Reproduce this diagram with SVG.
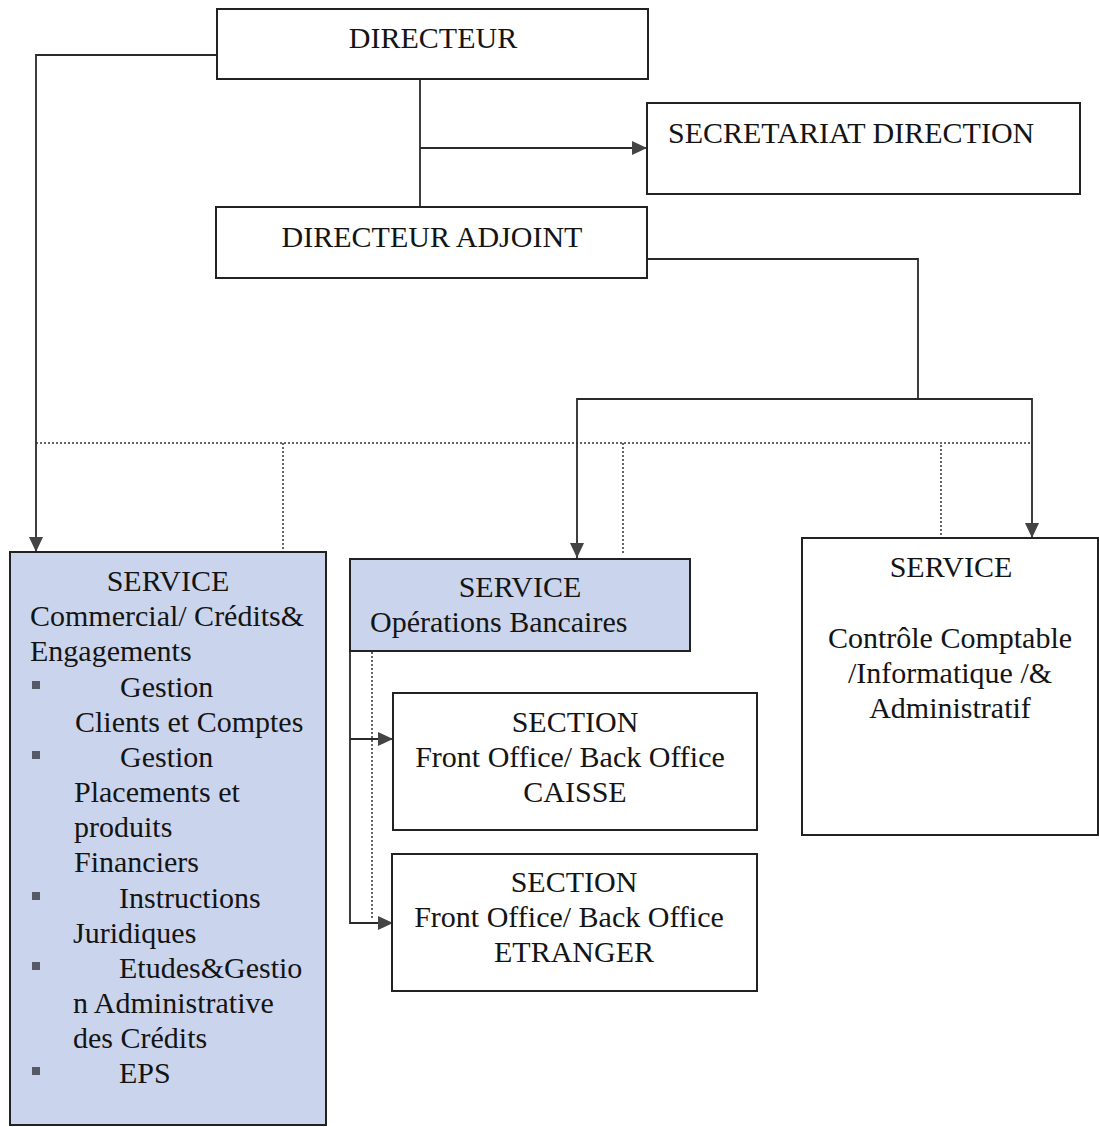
<svg xmlns="http://www.w3.org/2000/svg" width="1099" height="1127" viewBox="0 0 1099 1127">
  <style>
    .box { fill: #ffffff; stroke: #222222; stroke-width: 2; }
    .blue { fill: #cbd4ed; stroke: #222222; stroke-width: 2; }
    .lbl { font-family: "Liberation Serif", "Times New Roman", serif; font-size: 30px; fill: #141414; }
    .mid { text-anchor: middle; }
    .link { fill: none; stroke: #2a2a2a; stroke-width: 1.8; }
    .dot { fill: none; stroke: #333333; stroke-width: 1.5; stroke-dasharray: 2 2; }
    .bullet { fill: #555a66; }
  </style>
  <defs>
    <marker id="arrow" viewBox="0 0 15 14" refX="15" refY="7" markerWidth="15" markerHeight="14" markerUnits="userSpaceOnUse" orient="auto">
      <path d="M0,0 L15,7 L0,14 Z" fill="#444444"/>
    </marker>
  </defs>

  <rect width="1099" height="1127" fill="#ffffff"/>

  <!-- connectors -->
  <g id="connectors">
    <path class="link" d="M217,55 H36 V552" marker-end="url(#arrow)"/>
    <path class="link" d="M420,79 V207"/>
    <path class="link" d="M420,148 H647" marker-end="url(#arrow)"/>
    <path class="link" d="M647,259 H918 V399"/>
    <path class="link" d="M918,399 H577 V558" marker-end="url(#arrow)"/>
    <path class="link" d="M918,399 H1032 V538" marker-end="url(#arrow)"/>
    <path class="dot" d="M36,443 H1030"/>
    <path class="dot" d="M283,443 V552"/>
    <path class="dot" d="M623,443 V553"/>
    <path class="dot" d="M941,445 V537"/>
    <path class="link" d="M350,651 V923 H393" marker-end="url(#arrow)"/>
    <path class="link" d="M350,739 H393" marker-end="url(#arrow)"/>
    <path class="dot" d="M372,648 V918"/>
  </g>

  <g id="directeur">
    <rect class="box" x="217" y="9" width="431" height="70"/>
    <text class="lbl mid" x="433" y="48">DIRECTEUR</text>
  </g>

  <g id="secretariat">
    <rect class="box" x="647" y="103" width="433" height="91"/>
    <text class="lbl" x="668" y="143">SECRETARIAT DIRECTION</text>
  </g>

  <g id="directeur-adjoint">
    <rect class="box" x="216" y="207" width="431" height="71"/>
    <text class="lbl mid" x="432" y="247">DIRECTEUR ADJOINT</text>
  </g>

  <g id="service-commercial">
    <rect class="blue" x="10" y="552" width="316" height="573"/>
    <text class="lbl mid" x="168" y="591">SERVICE</text>
    <text class="lbl" x="30" y="626">Commercial/ Crédits&amp;</text>
    <text class="lbl" x="30" y="661">Engagements</text>
    <rect class="bullet" x="32" y="681" width="8" height="8"/>
    <text class="lbl" x="120" y="697">Gestion</text>
    <text class="lbl" x="75" y="732">Clients et Comptes</text>
    <rect class="bullet" x="32" y="751" width="8" height="8"/>
    <text class="lbl" x="120" y="767">Gestion</text>
    <text class="lbl" x="74" y="802">Placements et</text>
    <text class="lbl" x="74" y="837">produits</text>
    <text class="lbl" x="74" y="872">Financiers</text>
    <rect class="bullet" x="32" y="892" width="8" height="8"/>
    <text class="lbl" x="119" y="908">Instructions</text>
    <text class="lbl" x="73" y="943">Juridiques</text>
    <rect class="bullet" x="32" y="962" width="8" height="8"/>
    <text class="lbl" x="119" y="978">Etudes&amp;Gestio</text>
    <text class="lbl" x="73" y="1013">n Administrative</text>
    <text class="lbl" x="73" y="1048">des Crédits</text>
    <rect class="bullet" x="32" y="1067" width="8" height="8"/>
    <text class="lbl" x="119" y="1083">EPS</text>
  </g>

  <g id="service-operations">
    <rect class="blue" x="350" y="559" width="340" height="92"/>
    <text class="lbl mid" x="520" y="597">SERVICE</text>
    <text class="lbl" x="370" y="632">Opérations Bancaires</text>
  </g>

  <g id="service-controle">
    <rect class="box" x="802" y="538" width="296" height="297"/>
    <text class="lbl mid" x="951" y="577">SERVICE</text>
    <text class="lbl mid" x="950" y="648">Contrôle Comptable</text>
    <text class="lbl mid" x="950" y="683">/Informatique /&amp;</text>
    <text class="lbl mid" x="950" y="718">Administratif</text>
  </g>

  <g id="section-caisse">
    <rect class="box" x="393" y="693" width="364" height="137"/>
    <text class="lbl mid" x="575" y="732">SECTION</text>
    <text class="lbl mid" x="570" y="767">Front Office/ Back Office</text>
    <text class="lbl mid" x="575" y="802">CAISSE</text>
  </g>

  <g id="section-etranger">
    <rect class="box" x="392" y="854" width="365" height="137"/>
    <text class="lbl mid" x="574" y="892">SECTION</text>
    <text class="lbl mid" x="569" y="927">Front Office/ Back Office</text>
    <text class="lbl mid" x="574" y="962">ETRANGER</text>
  </g>
</svg>
